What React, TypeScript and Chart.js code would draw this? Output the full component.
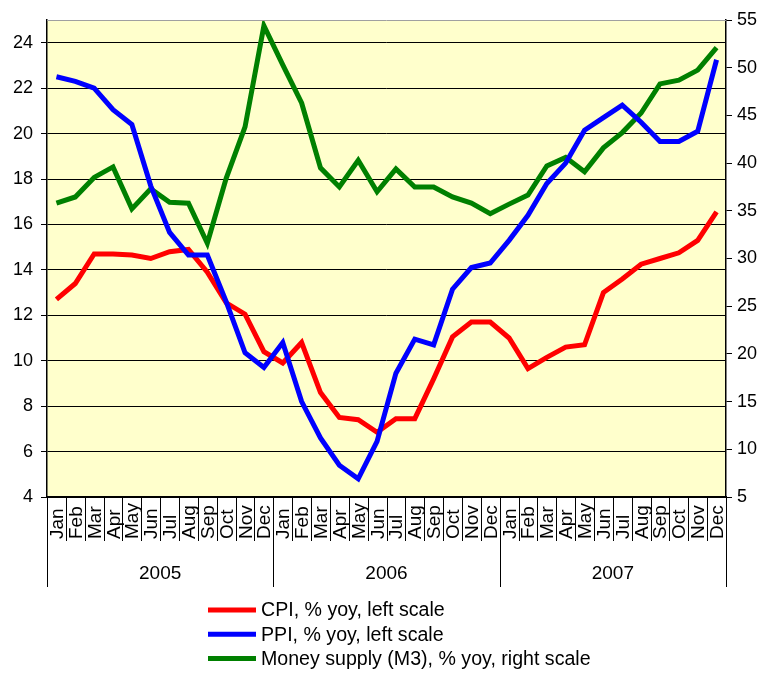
import React, { useEffect, useRef } from "react";
import { Chart, registerables } from "chart.js";

Chart.register(...registerables);

const months = ["Jan", "Feb", "Mar", "Apr", "May", "Jun", "Jul", "Aug", "Sep", "Oct", "Nov", "Dec"];
const years = ["2005", "2006", "2007"];

const cpi = [
  12.7, 13.4, 14.7, 14.7, 14.65, 14.5, 14.8, 14.9, 13.9, 12.55, 12.05, 10.4,
  9.9, 10.8, 8.6, 7.5, 7.4, 6.85, 7.45, 7.45, 9.2, 11.05, 11.7, 11.7,
  11.0, 9.65, 10.15, 10.6, 10.7, 13.0, 13.6, 14.25, 14.5, 14.75, 15.3, 16.55,
];

const ppi = [
  22.5, 22.3, 22.0, 21.05, 20.4, 17.7, 15.65, 14.65, 14.65, 12.6, 10.35, 9.7,
  10.8, 8.2, 6.6, 5.4, 4.8, 6.45, 9.45, 10.95, 10.7, 13.15, 14.1, 14.3,
  15.3, 16.4, 17.8, 18.7, 20.15, 20.7, 21.25, 20.5, 19.65, 19.65, 20.1, 23.25,
];

const m3 = [
  35.8, 36.45, 38.5, 39.6, 35.2, 37.3, 35.9, 35.8, 31.6, 38.4, 43.8, 54.4,
  50.3, 46.3, 39.5, 37.5, 40.3, 37.0, 39.4, 37.5, 37.5, 36.45, 35.8, 34.7,
  35.7, 36.65, 39.7, 40.6, 39.1, 41.6, 43.2, 45.25, 48.3, 48.7, 49.75, 52.1,
];

const leftTicks = { min: 4, max: 25, step: 2 };
const rightTicks = { min: 5, max: 55, step: 5 };

const seriesNames = [
  "CPI, % yoy, left scale",
  "PPI, % yoy, left scale",
  "Money supply (M3), % yoy, right scale",
];
const seriesColors = ["#FF0000", "#0000FF", "#008000"];

const FONT = '"Liberation Sans", Arial, sans-serif';

const categories = years.flatMap((y) => months.map((m) => `${m} ${y}`));

const decorPlugin = {
  id: "decor",
  beforeDraw(chart: any) {
    const { ctx, chartArea } = chart;
    ctx.save();
    ctx.fillStyle = "#FFFFCC";
    ctx.fillRect(chartArea.left, chartArea.top, chartArea.right - chartArea.left, chartArea.bottom - chartArea.top);
    ctx.restore();
  },
  afterDraw(chart: any) {
    const { ctx, chartArea } = chart;
    const xs = chart.scales.x;
    const n = categories.length;
    const w = (chartArea.right - chartArea.left) / n;
    ctx.save();
    // top border
    ctx.strokeStyle = "#A0A0A0";
    ctx.lineWidth = 1;
    ctx.beginPath();
    ctx.moveTo(chartArea.left, chartArea.top + 0.5);
    ctx.lineTo(chartArea.right, chartArea.top + 0.5);
    ctx.stroke();
    // separators
    ctx.strokeStyle = "#000";
    ctx.lineWidth = 1;
    for (let i = 0; i <= n; i++) {
      const x = Math.round(chartArea.left + i * w) + 0.5;
      const isYear = i % 12 === 0;
      ctx.beginPath();
      ctx.moveTo(x, chartArea.bottom);
      ctx.lineTo(x, chartArea.bottom + (isYear ? 90 : 44));
      ctx.stroke();
    }
    // month labels
    ctx.fillStyle = "#000";
    ctx.font = `19px ${FONT}`;
    ctx.textAlign = "left";
    ctx.textBaseline = "alphabetic";
    for (let i = 0; i < n; i++) {
      const x = xs.getPixelForValue(i);
      ctx.save();
      ctx.translate(x + 6.5, chartArea.bottom + 42);
      ctx.rotate(-Math.PI / 2);
      ctx.fillText(months[i % 12], 0, 0);
      ctx.restore();
    }
    // year labels
    ctx.textAlign = "center";
    ctx.textBaseline = "middle";
    years.forEach((y, k) => {
      const x0 = xs.getPixelForValue(k * 12);
      const x1 = xs.getPixelForValue(k * 12 + 11);
      ctx.fillText(y, (x0 + x1) / 2, chartArea.bottom + 77);
    });
    // legend
    ctx.font = `19.6px ${FONT}`;
    chart.data.datasets.forEach((ds: any, k: number) => {
      const y = 610 + k * 24.3;
      ctx.strokeStyle = ds.borderColor;
      ctx.lineWidth = 5;
      ctx.beginPath();
      ctx.moveTo(208, y);
      ctx.lineTo(256, y);
      ctx.stroke();
      ctx.fillStyle = "#000";
      ctx.textAlign = "left";
      ctx.textBaseline = "middle";
      ctx.fillText(ds.label, 261, y + 1);
    });
    ctx.restore();
  },
};

export default function App() {
  const ref = useRef<HTMLCanvasElement | null>(null);
  useEffect(() => {
    if (!ref.current) return;
    const chart = new Chart(ref.current, {
      type: "line",
      data: {
        labels: categories,
        datasets: [
          { label: seriesNames[0], data: cpi, borderColor: seriesColors[0], backgroundColor: seriesColors[0], borderWidth: 5, pointRadius: 0, yAxisID: "y", order: 2, tension: 0 },
          { label: seriesNames[1], data: ppi, borderColor: seriesColors[1], backgroundColor: seriesColors[1], borderWidth: 5, pointRadius: 0, yAxisID: "y", order: 0, tension: 0 },
          { label: seriesNames[2], data: m3, borderColor: seriesColors[2], backgroundColor: seriesColors[2], borderWidth: 5, pointRadius: 0, yAxisID: "y1", order: 1, tension: 0 },
        ],
      },
      options: {
        responsive: false,
        animation: false,
        layout: { padding: { top: 20, left: 0, right: 0, bottom: 0 } },
        plugins: { legend: { display: false }, tooltip: { enabled: false } },
        scales: {
          x: {
            type: "category",
            offset: true,
            grid: { display: false },
            ticks: { display: false },
            border: { display: true, color: "#000", width: 1.5 },
            afterFit: (s: any) => { s.height = 176; },
          },
          y: {
            position: "left",
            min: leftTicks.min,
            max: leftTicks.max,
            ticks: { stepSize: leftTicks.step, color: "#000", font: { size: 18, family: FONT }, padding: 8 },
            grid: { color: "#000", lineWidth: 1, tickLength: 6, drawTicks: true },
            border: { display: true, color: "#000", width: 1.5 },
            afterBuildTicks: (axis: any) => { axis.ticks = axis.ticks.filter((t: any) => t.value % leftTicks.step === 0); },
            afterFit: (s: any) => { s.width = 47; },
          },
          y1: {
            position: "right",
            min: rightTicks.min,
            max: rightTicks.max,
            ticks: { stepSize: rightTicks.step, color: "#000", font: { size: 18, family: FONT }, padding: 5 },
            grid: { drawOnChartArea: false, color: "#000", lineWidth: 1, tickLength: 6 },
            border: { display: true, color: "#000", width: 1.5 },
            afterFit: (s: any) => { s.width = 37; },
          },
        },
      },
      plugins: [decorPlugin],
    });
    return () => chart.destroy();
  }, []);
  return (
    <div style={{ position: "absolute", left: 0, top: 0, width: 763, height: 673, background: "#fff" }}>
      <canvas ref={ref} width={763} height={673} style={{ display: "block" }} />
    </div>
  );
}
